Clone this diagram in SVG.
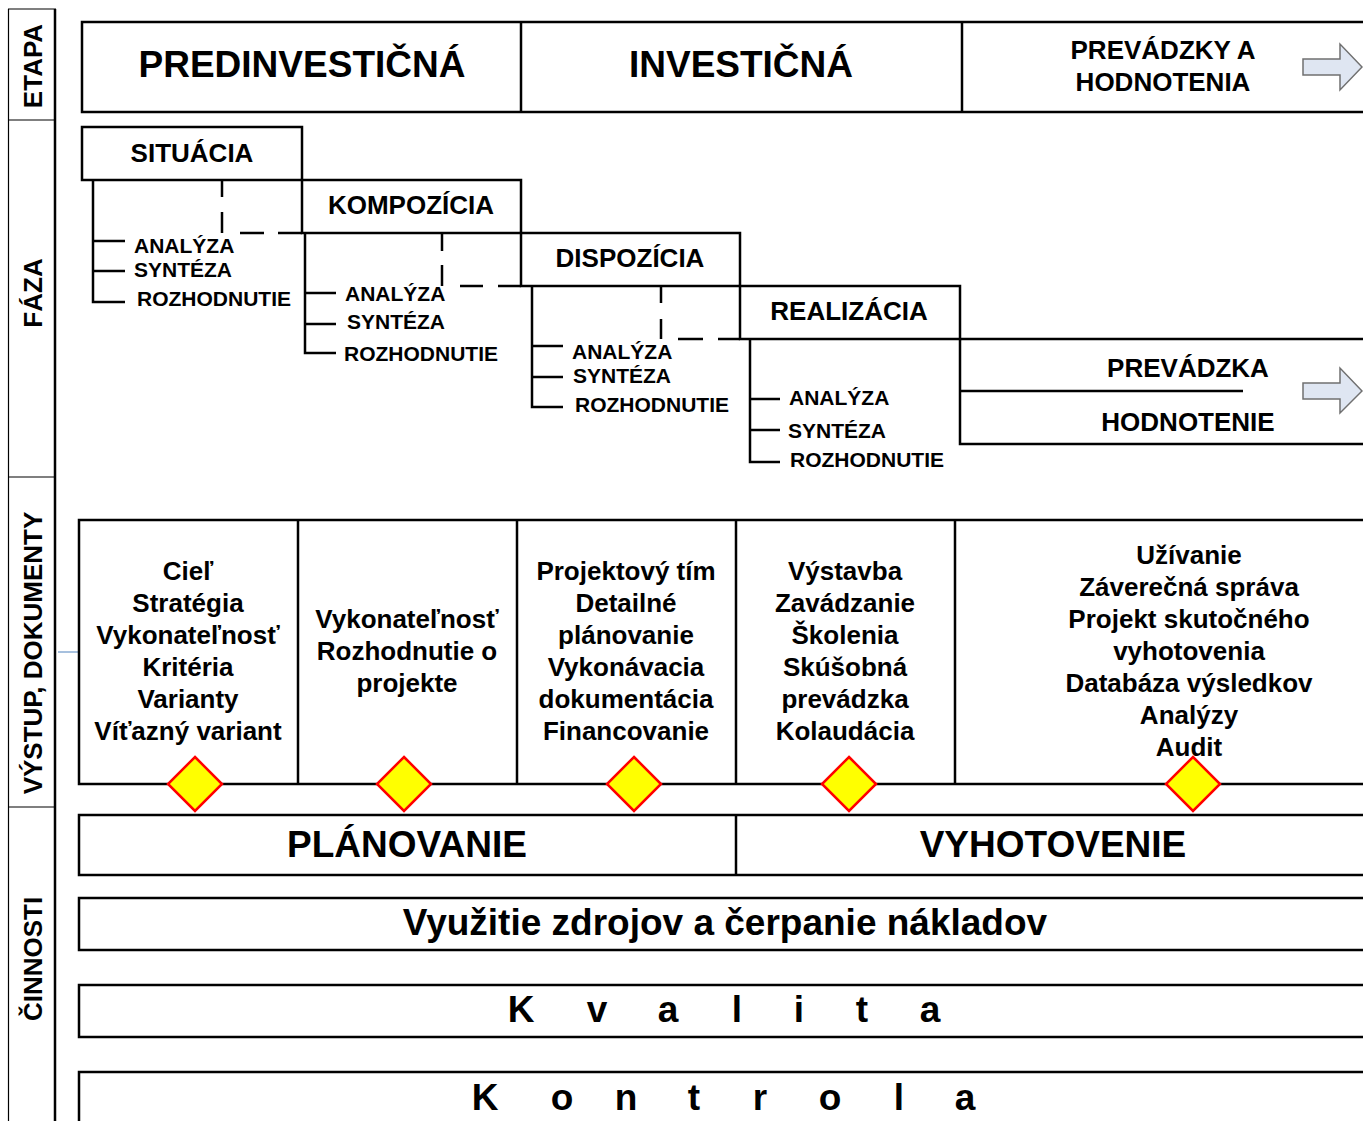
<svg xmlns="http://www.w3.org/2000/svg" width="1363" height="1121" viewBox="0 0 1363 1121">
<defs>
<style>
.ln{fill:none;stroke:#000;stroke-width:2.5}
.box{fill:#fff;stroke:#000;stroke-width:2.5}
.thin{fill:none;stroke:#000;stroke-width:1.2}
.dash{fill:none;stroke:#000;stroke-width:2.5}
.t{font-family:"Liberation Sans",Arial,sans-serif;font-weight:bold;fill:#000}
.c{text-anchor:middle}
.f37{font-size:37px}
.f26{font-size:26px}
.f21{font-size:21px}
.arr{fill:#dfe6f2;stroke:#707070;stroke-width:1.5}
.dia{fill:#ffff00;stroke:#ff0000;stroke-width:2.5}
</style>
</defs>
<rect width="1363" height="1121" fill="#fff"/>

<!-- left labels column -->
<g id="side-labels">
<line class="thin" x1="8.5" y1="9" x2="8.5" y2="1125"/>
<line class="ln" x1="55" y1="9" x2="55" y2="1125"/>
<line class="thin" x1="8" y1="9" x2="56" y2="9"/>
<line class="thin" x1="8" y1="120" x2="56" y2="120"/>
<line class="thin" x1="8" y1="477" x2="56" y2="477"/>
<line class="thin" x1="8" y1="807" x2="56" y2="807"/>
<text class="t f26 c" transform="translate(42,66) rotate(-90)">ETAPA</text>
<text class="t f26 c" transform="translate(42,293) rotate(-90)">FÁZA</text>
<text class="t f26 c" transform="translate(42,653) rotate(-90)">VÝSTUP, DOKUMENTY</text>
<text class="t f26 c" transform="translate(42,959) rotate(-90)">ČINNOSTI</text>
</g>

<!-- ETAPA row -->
<g id="etapa">
<rect class="box" x="82" y="22" width="1300" height="90"/>
<line class="ln" x1="521" y1="22" x2="521" y2="112"/>
<line class="ln" x1="962" y1="22" x2="962" y2="112"/>
<text class="t f37 c" x="302" y="77">PREDINVESTIČNÁ</text>
<text class="t f37 c" x="741" y="77">INVESTIČNÁ</text>
<text class="t f26 c" x="1163" y="59">PREVÁDZKY A</text>
<text class="t f26 c" x="1163" y="91">HODNOTENIA</text>
<polygon class="arr" points="1303,59 1340,59 1340,44 1362,67 1340,90 1340,75 1303,75"/>
</g>

<!-- FÁZA staircase -->
<g id="faza-situacia">
<rect class="box" x="82" y="127" width="220" height="53"/>
<text class="t f26 c" x="192" y="162">SITUÁCIA</text>
<text class="t f21" x="134" y="253">ANALÝZA</text>
<text class="t f21" x="134" y="277">SYNTÉZA</text>
<text class="t f21" x="137" y="306">ROZHODNUTIE</text>
</g>
<g id="faza-kompozicia">
<rect class="box" x="302" y="180" width="219" height="53"/>
<text class="t f26 c" x="411" y="214">KOMPOZÍCIA</text>
<text class="t f21" x="345" y="301">ANALÝZA</text>
<text class="t f21" x="347" y="329">SYNTÉZA</text>
<text class="t f21" x="344" y="361">ROZHODNUTIE</text>
</g>
<g id="faza-dispozicia">
<rect class="box" x="521" y="233" width="219" height="53"/>
<text class="t f26 c" x="630" y="267">DISPOZÍCIA</text>
<text class="t f21" x="572" y="359">ANALÝZA</text>
<text class="t f21" x="573" y="383">SYNTÉZA</text>
<text class="t f21" x="575" y="412">ROZHODNUTIE</text>
</g>
<g id="faza-realizacia">
<rect class="box" x="740" y="286" width="220" height="53"/>
<text class="t f26 c" x="849" y="320">REALIZÁCIA</text>
<text class="t f21" x="789" y="405">ANALÝZA</text>
<text class="t f21" x="788" y="438">SYNTÉZA</text>
<text class="t f21" x="790" y="467">ROZHODNUTIE</text>
</g>
<g id="faza-prevadzka">
<path class="ln" d="M960,339 H1370 M960,339 V444 H1370 M960,391 H1243"/>
<text class="t f26 c" x="1188" y="377">PREVÁDZKA</text>
<text class="t f26 c" x="1188" y="431">HODNOTENIE</text>
<polygon class="arr" points="1303,383 1340,383 1340,368 1362,391 1340,413 1340,399 1303,399"/>
</g>

<!-- connectors: sub-step trees and dashed links -->
<g id="connectors">
<path class="ln" d="M93,180 V302 H125 M93,241 H125 M93,271 H125"/>
<path class="ln" d="M305,233 V353 H336 M305,293 H336 M305,324 H336"/>
<path class="ln" d="M532,286 V407 H563 M532,346 H563 M532,377 H563"/>
<path class="ln" d="M750,339 V462 H780 M750,399 H780 M750,430 H780"/>
<path class="dash" d="M222,181 V233" stroke-dasharray="16 15 22"/>
<path class="dash" d="M302,233 H222" stroke-dasharray="24 14 24 100"/>
<path class="dash" d="M442,234 V286" stroke-dasharray="17 14 22"/>
<path class="dash" d="M521,286 H442" stroke-dasharray="23 15 23 100"/>
<path class="dash" d="M661,287 V339" stroke-dasharray="16 16 21"/>
<path class="dash" d="M740,339 H661" stroke-dasharray="22 15 25 100"/>
<line x1="58" y1="652" x2="79" y2="652" stroke="#4f81bd" stroke-width="1"/>
</g>

<!-- VÝSTUP, DOKUMENTY -->
<g id="vystup">
<rect class="box" x="79" y="520" width="1300" height="264"/>
<line class="ln" x1="298" y1="520" x2="298" y2="784"/>
<line class="ln" x1="517" y1="520" x2="517" y2="784"/>
<line class="ln" x1="736" y1="520" x2="736" y2="784"/>
<line class="ln" x1="955" y1="520" x2="955" y2="784"/>
</g>
<g id="vystup-1" class="t f26 c">
<text x="188" y="580">Cieľ</text>
<text x="188" y="612">Stratégia</text>
<text x="188" y="644">Vykonateľnosť</text>
<text x="188" y="676">Kritéria</text>
<text x="188" y="708">Varianty</text>
<text x="188" y="740">Víťazný variant</text>
</g>
<g id="vystup-2" class="t f26 c">
<text x="407" y="628">Vykonateľnosť</text>
<text x="407" y="660">Rozhodnutie o</text>
<text x="407" y="692">projekte</text>
</g>
<g id="vystup-3" class="t f26 c">
<text x="626" y="580">Projektový tím</text>
<text x="626" y="612">Detailné</text>
<text x="626" y="644">plánovanie</text>
<text x="626" y="676">Vykonávacia</text>
<text x="626" y="708">dokumentácia</text>
<text x="626" y="740">Financovanie</text>
</g>
<g id="vystup-4" class="t f26 c">
<text x="845" y="580">Výstavba</text>
<text x="845" y="612">Zavádzanie</text>
<text x="845" y="644">Školenia</text>
<text x="845" y="676">Skúšobná</text>
<text x="845" y="708">prevádzka</text>
<text x="845" y="740">Kolaudácia</text>
</g>
<g id="vystup-5" class="t f26 c">
<text x="1189" y="564">Užívanie</text>
<text x="1189" y="596">Záverečná správa</text>
<text x="1189" y="628">Projekt skutočného</text>
<text x="1189" y="660">vyhotovenia</text>
<text x="1189" y="692">Databáza výsledkov</text>
<text x="1189" y="724">Analýzy</text>
<text x="1189" y="756">Audit</text>
</g>
<g id="milestones">
<polygon class="dia" points="195,757 222,784 195,811 168,784"/>
<polygon class="dia" points="404,757 431,784 404,811 377,784"/>
<polygon class="dia" points="634,757 661,784 634,811 607,784"/>
<polygon class="dia" points="849,757 876,784 849,811 822,784"/>
<polygon class="dia" points="1193,757 1220,784 1193,811 1166,784"/>
</g>

<!-- ČINNOSTI -->
<g id="planovanie">
<rect class="box" x="79" y="815" width="1300" height="60"/>
<line class="ln" x1="736" y1="815" x2="736" y2="875"/>
<text class="t f37 c" x="407" y="857">PLÁNOVANIE</text>
<text class="t f37 c" x="1053" y="857">VYHOTOVENIE</text>
</g>
<g id="zdroje">
<rect class="box" x="79" y="898" width="1300" height="52"/>
<text class="t f37 c" x="725" y="935">Využitie zdrojov a čerpanie nákladov</text>
</g>
<g id="kvalita">
<rect class="box" x="79" y="985" width="1300" height="52"/>
<text class="t f37 c" x="521 559 597 632 668 702 737 768 799 830 862 896 930" y="1022">K v a l i t a</text>
</g>
<g id="kontrola">
<rect class="box" x="79" y="1072" width="1300" height="60"/>
<text class="t f37 c" x="485 523 562 594 626 660 694 727 760 795 830 864 899 932 965" y="1110">K o n t r o l a</text>
</g>
</svg>
